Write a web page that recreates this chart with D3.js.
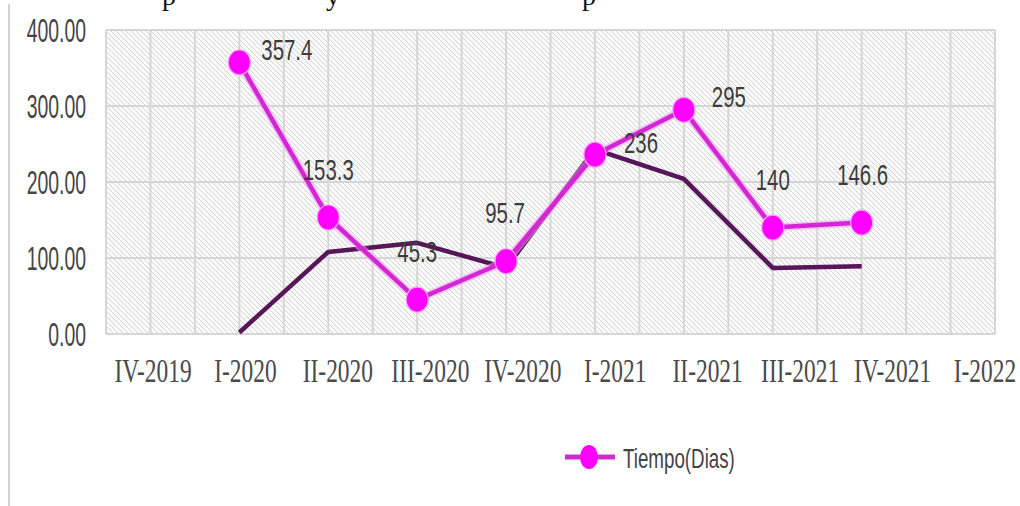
<!DOCTYPE html>
<html>
<head>
<meta charset="utf-8">
<script src="https://cdn.jsdelivr.net/npm/d3@7"></script>
<style>
  html, body { margin: 0; padding: 0; background: #fff; }
  svg { display: block; }
</style>
</head>
<body>
<svg id="chart" width="1020" height="506"></svg>
<script>
// Quarters on the category axis
const categories = ["IV-2019", "I-2020", "II-2020", "III-2020", "IV-2020",
                    "I-2021", "II-2021", "III-2021", "IV-2021", "I-2022"];
// Tiempo (Dias) per quarter
const tiempoDias = [null, 357.4, 153.3, 45.3, 95.7, 236, 295, 140, 146.6, null];
// Companion series (dark line, unlabelled)
const referencia = [null, 2, 108, 120, 87, 243, 204, 87, 89, null];
// Value-axis ticks
const yTicks = [0, 100, 200, 300, 400];
const seriesName = "Tiempo(Dias)";

// Label placement around each marker: [dx, dy, anchor]
const labelPlace = [null, [22, -2, "start"], [0, -37, "middle"], [0, -38, "middle"],
  [-1, -38, "middle"], [29, -2, "start"], [28, -3, "start"], [0, -38, "middle"],
  [1, -38, "middle"], null];

const svg = d3.select("#chart");
const plot = { left: 106, right: 995, top: 30, bottom: 334 };

const x = d3.scaleBand().domain(categories).range([plot.left, plot.right]).padding(0);
const xc = d => x(d) + x.bandwidth() / 2;
const y = d3.scaleLinear().domain([0, 400]).range([plot.bottom, plot.top]);
// Tick labels sit on their own, slightly wider, spread
const xLab = d3.scalePoint().domain(categories).range([153, 985]);

// Hatched fill of the plotting area
const defs = svg.append("defs");
const pat = defs.append("pattern").attr("id", "hatch")
  .attr("patternUnits", "userSpaceOnUse").attr("width", 5).attr("height", 5);
pat.append("rect").attr("width", 5).attr("height", 5).attr("fill", "#fbfbfb");
pat.append("path").attr("d", "M0,0 L5,5 M-1,4 L1,6 M4,-1 L6,1")
  .attr("stroke", "#d2d2d2").attr("stroke-width", 1);

const glow = defs.append("filter").attr("id", "soft").attr("x", "-20%").attr("y", "-20%")
  .attr("width", "140%").attr("height", "140%");
glow.append("feGaussianBlur").attr("stdDeviation", 0.6);

// Page edge rule on the left
svg.append("line").attr("x1", 9).attr("x2", 9).attr("y1", 4).attr("y2", 506)
  .attr("stroke", "#d2d2d2").attr("stroke-width", 2);

// Cut-off caption line above the chart
svg.append("text").attr("y", 5).attr("font-family", "Liberation Serif, serif")
  .attr("font-size", 28).attr("fill", "#111")
  .selectAll("tspan").data([[162, "p"], [326, "y"], [582, "p"]]).join("tspan")
  .attr("x", d => d[0]).text(d => d[1]);

svg.append("rect").attr("x", plot.left).attr("y", plot.top)
  .attr("width", plot.right - plot.left).attr("height", plot.bottom - plot.top)
  .attr("fill", "url(#hatch)");

// Grid: vertical lines at every band edge and band centre
const gridX = [];
categories.forEach(c => { gridX.push(x(c)); gridX.push(xc(c)); });
gridX.push(plot.right);
svg.append("g").selectAll("line").data(gridX).join("line")
  .attr("x1", d => d).attr("x2", d => d)
  .attr("y1", plot.top).attr("y2", plot.bottom)
  .attr("stroke", "#d6d6d6").attr("stroke-width", 2);
svg.append("g").selectAll("line").data(yTicks).join("line")
  .attr("x1", plot.left).attr("x2", plot.right)
  .attr("y1", d => y(d)).attr("y2", d => y(d))
  .attr("stroke", "#d6d6d6").attr("stroke-width", 2);

// Condensed text helper
function condText(g, tx, ty, sx, txt, size, family, anchor, fill) {
  return g.append("text")
    .attr("transform", `translate(${tx},${ty}) scale(${sx},1)`)
    .attr("text-anchor", anchor).attr("font-size", size)
    .attr("font-family", family).attr("fill", fill).text(txt);
}

// Value axis labels
const yAxis = svg.append("g");
yTicks.forEach(t => condText(yAxis, 86, y(t) + 12, 0.57, d3.format(".2f")(t), 34,
  "Liberation Sans, Arial, sans-serif", "end", "#444"));

// Category axis labels
const xAxis = svg.append("g");
categories.forEach(c => condText(xAxis, xLab(c), 382, 0.71, c, 33,
  "Liberation Serif, Times New Roman, serif", "middle", "#4a4a4a"));

// Lines
const line = d3.line().defined(d => d.v != null).x(d => xc(d.c)).y(d => y(d.v));
const refPts = categories.map((c, i) => ({ c, v: referencia[i] }));
const tPts = categories.map((c, i) => ({ c, v: tiempoDias[i] }));

svg.append("path").datum(refPts).attr("d", line).attr("fill", "none")
  .attr("stroke", "#571358").attr("stroke-width", 4.5)
  .attr("stroke-linejoin", "round").attr("filter", "url(#soft)");

svg.append("path").datum(tPts).attr("d", line).attr("fill", "none")
  .attr("stroke", "#f2a6f2").attr("stroke-width", 8).attr("stroke-opacity", 0.55)
  .attr("stroke-linejoin", "round");
svg.append("path").datum(tPts).attr("d", line).attr("fill", "none")
  .attr("stroke", "#d426d4").attr("stroke-width", 4.5)
  .attr("stroke-linejoin", "round").attr("filter", "url(#soft)");

const valid = tPts.filter(d => d.v != null);
svg.append("g").selectAll("ellipse").data(valid).join("ellipse")
  .attr("cx", d => xc(d.c)).attr("cy", d => y(d.v))
  .attr("rx", 11).attr("ry", 12.5)
  .attr("fill", "#ff00ff").attr("stroke", "#f7a0f7").attr("stroke-width", 1.2)
  .attr("filter", "url(#soft)");

// Data labels
const lab = svg.append("g");
tPts.forEach((d, i) => {
  if (d.v == null) return;
  const p = labelPlace[i];
  condText(lab, xc(d.c) + p[0], y(d.v) + p[1], 0.68, String(d.v), 30,
    "Liberation Sans, Arial, sans-serif", p[2], "#3c3c3c");
});

// Legend
const lg = svg.append("g");
lg.append("line").attr("x1", 565).attr("x2", 615).attr("y1", 457).attr("y2", 457)
  .attr("stroke", "#cf2ccf").attr("stroke-width", 5);
lg.append("ellipse").attr("cx", 589).attr("cy", 457).attr("rx", 9).attr("ry", 12)
  .attr("fill", "#ff00ff").attr("filter", "url(#soft)");
condText(lg, 623, 468, 0.67, seriesName, 28, "Liberation Sans, Arial, sans-serif",
  "start", "#444");
</script>
</body>
</html>
